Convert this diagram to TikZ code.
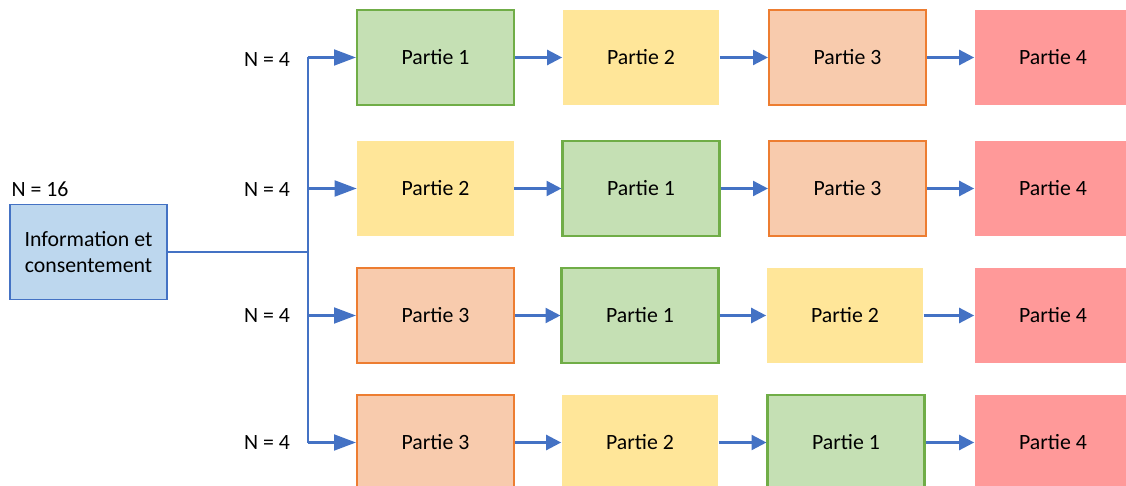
\documentclass[tikz,border=0pt]{standalone}
\usepackage{fontspec}
\setmainfont{Carlito}
\usetikzlibrary{arrows.meta}
\definecolor{vertf}{HTML}{C5E0B4}
\definecolor{vertb}{HTML}{70AD47}
\definecolor{jaune}{HTML}{FFE699}
\definecolor{orangef}{HTML}{F8CBAD}
\definecolor{orangeb}{HTML}{ED7D31}
\definecolor{rouge}{HTML}{FF9999}
\definecolor{bleuf}{HTML}{BDD7EE}
\definecolor{bleu}{HTML}{4472C4}
\tikzset{
  texte/.style={font=\fontsize{12.4}{15.3}\selectfont},
  partie/.style={texte,minimum width=3.14cm,minimum height=1.9cm,inner sep=0pt},
  pun/.style={partie,fill=vertf,draw=vertb,line width=1.2pt},
  pdeux/.style={partie,fill=jaune},
  ptrois/.style={partie,fill=orangef,draw=orangeb,line width=1.2pt},
  pquatre/.style={partie,fill=rouge},
  lien/.style={bleu,line width=1.4pt},
  fleche/.style={lien,-{Triangle[length=8.5pt,width=8.5pt]}},
  grandefleche/.style={lien,-{Triangle[length=12.5pt,width=9pt]}}
}
\begin{document}
\begin{tikzpicture}[x=0.02cm,y=-0.02cm]
  \useasboundingbox (0,0) rectangle (1126,486);
  \clip (0,0) rectangle (1126,486);
  % start box
  \node[texte,draw=bleu,fill=bleuf,line width=1.1pt,minimum width=3.14cm,minimum height=1.9cm,
        inner sep=0pt,align=center] (info) at (88.5,252) {Information et\\consentement};
  \node[texte] (ntot) at (40,189) {N = 16};
  % branch points on the bus
  \coordinate (b1) at (308,57.5);
  \coordinate (b2) at (308,188.5);
  \coordinate (b3) at (308,315.5);
  \coordinate (b4) at (308,442.5);
  % row 1
  \node[pun] (p11) at (435.5,57.5) {Partie 1};
  \node[pdeux] (p12) at (641,57.5) {Partie 2};
  \node[ptrois] (p13) at (847.5,57.5) {Partie 3};
  \node[pquatre] (p14) at (1053,57.5) {Partie 4};
  % row 2
  \node[pdeux] (p21) at (435.5,188.5) {Partie 2};
  \node[pun] (p22) at (641,188.5) {Partie 1};
  \node[ptrois] (p23) at (847.5,188.5) {Partie 3};
  \node[pquatre] (p24) at (1053,188.5) {Partie 4};
  % row 3
  \node[ptrois] (p31) at (435.5,315.5) {Partie 3};
  \node[pun] (p32) at (640,315.5) {Partie 1};
  \node[pdeux] (p33) at (845,315.5) {Partie 2};
  \node[pquatre] (p34) at (1053,315.5) {Partie 4};
  % row 4
  \node[ptrois] (p41) at (435.5,442.5) {Partie 3};
  \node[pdeux] (p42) at (640,442.5) {Partie 2};
  \node[pun] (p43) at (846,442.5) {Partie 1};
  \node[pquatre] (p44) at (1053,442.5) {Partie 4};
  % group sizes
  \node[texte] (n1) at (267,60) {N = 4};
  \node[texte] (n2) at (267,190) {N = 4};
  \node[texte] (n3) at (267,316) {N = 4};
  \node[texte] (n4) at (267,443) {N = 4};
  % bus
  \draw[lien] (info.east) -- (info.east -| b1);
  \draw[lien] (b1) -- (b4);
  \draw[grandefleche] (b1) -- (p11);
  \draw[grandefleche] (b2) -- (p21);
  \draw[grandefleche] (b3) -- (p31);
  \draw[grandefleche] (b4) -- (p41);
  % chains
  \draw[fleche] (p11) -- (p12);
  \draw[fleche] (p12) -- (p13);
  \draw[fleche] (p13) -- (p14);
  \draw[fleche] (p21) -- (p22);
  \draw[fleche] (p22) -- (p23);
  \draw[fleche] (p23) -- (p24);
  \draw[fleche] (p31) -- (p32);
  \draw[fleche] (p32) -- (p33);
  \draw[fleche] (p33) -- (p34);
  \draw[fleche] (p41) -- (p42);
  \draw[fleche] (p42) -- (p43);
  \draw[fleche] (p43) -- (p44);
\end{tikzpicture}
\end{document}
